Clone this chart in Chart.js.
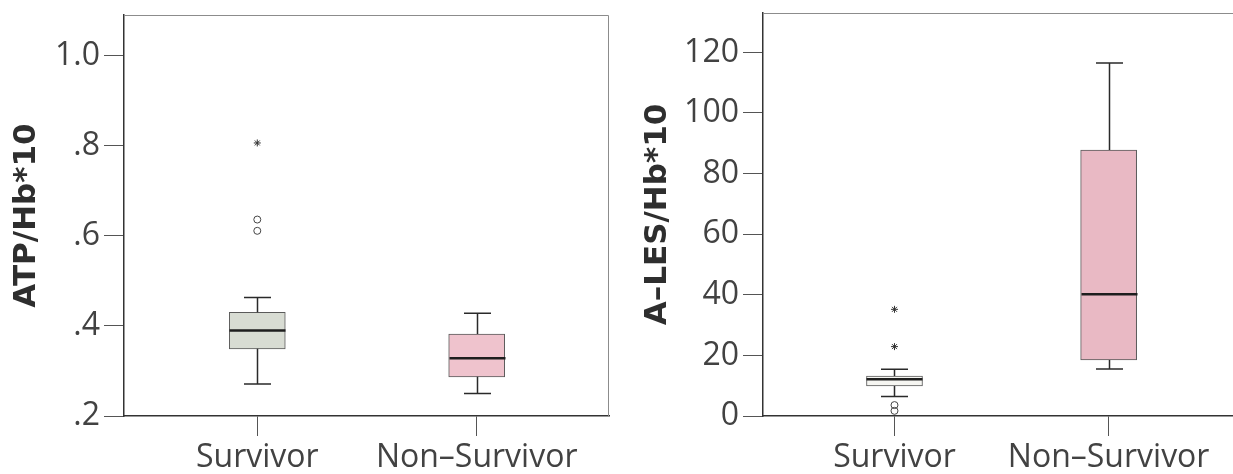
<!DOCTYPE html>
<html lang="en-US">
<head>
	<meta charset="utf-8">
	<script src="https://cdn.jsdelivr.net/npm/chart.js@4.4.1/dist/chart.umd.min.js"></script>
	<style>
		body { margin:0; background:#ffffff; overflow:hidden; width:1233px; height:474px; position:relative; }
		canvas { position:absolute; top:0; }
	</style>
</head>
<body>
	<canvas id="chartAtp" width="620" height="474" style="left:0px;"></canvas>
	<canvas id="chartLes" width="640" height="474" style="left:620px;"></canvas>
	<script>
	var groups = ['Survivor', 'Non\u2013Survivor'];

	// ATP/Hb*10 (left panel)
	var atpLow    = [0.271, 0.250];
	var atpQ1     = [0.349, 0.287];
	var atpMedian = [0.390, 0.328];
	var atpQ3     = [0.430, 0.382];
	var atpHigh   = [0.463, 0.428];
	var atpOutliers = [0.636, 0.611];   // circles, Survivor
	var atpExtremes = [0.806];          // stars, Survivor
	var atpTicks      = [0.2, 0.4, 0.6, 0.8, 1.0];
	var atpTickLabels = ['.2', '.4', '.6', '.8', '1.0'];

	// A-LES/Hb*10 (right panel)
	var lesLow    = [6.4, 15.5];
	var lesQ1     = [9.9, 18.5];
	var lesMedian = [12.1, 40.2];
	var lesQ3     = [13.2, 87.8];
	var lesHigh   = [15.4, 116.5];
	var lesOutliers = [3.6, 1.7];       // circles, Survivor
	var lesExtremes = [35.2, 22.9];     // stars, Survivor
	var lesTicks      = [0, 20, 40, 60, 80, 100, 120];
	var lesTickLabels = ['0', '20', '40', '60', '80', '100', '120'];

	var tickFont  = { family: 'Open Sans', size: 32, weight: '400' };
	var titleFont = { family: 'DejaVu Sans', size: 31, weight: 'bold' };
	var inkColor  = '#424242';

	// whiskers, caps, medians and the light top/right frame
	var boxPlugin = {
		id: 'boxExtras',
		afterDatasetsDraw: function(chart)
		{
			var st = chart.options.plugins.boxExtras;
			var xs = chart.scales.x, ys = chart.scales.y, ctx = chart.ctx;
			var area = chart.chartArea;
			ctx.save();
			ctx.strokeStyle = '#8c8c8c';
			ctx.lineWidth = 1;
			ctx.beginPath();
			ctx.moveTo(area.left, area.top + 0.5);
			ctx.lineTo(area.right - 0.5, area.top + 0.5);
			ctx.lineTo(area.right - 0.5, area.bottom);
			ctx.stroke();

			for (var i = 0; i < st.median.length; i++)
			{
				var cx = Math.round(xs.getPixelForValue(i)) + 0.5;
				var yLow = ys.getPixelForValue(st.low[i]);
				var yQ1 = ys.getPixelForValue(st.q1[i]);
				var yQ3 = ys.getPixelForValue(st.q3[i]);
				var yHigh = ys.getPixelForValue(st.high[i]);
				var yMed = ys.getPixelForValue(st.median[i]);

				ctx.strokeStyle = '#2a2a2a';
				ctx.lineWidth = 1.5;
				ctx.beginPath();
				ctx.moveTo(cx, yQ3); ctx.lineTo(cx, yHigh);
				ctx.moveTo(cx, yQ1); ctx.lineTo(cx, yLow);
				ctx.moveTo(cx - 13.5, yHigh); ctx.lineTo(cx + 13.5, yHigh);
				ctx.moveTo(cx - 13.5, yLow); ctx.lineTo(cx + 13.5, yLow);
				ctx.stroke();

				ctx.strokeStyle = '#1e1e1e';
				ctx.lineWidth = 2.5;
				ctx.beginPath();
				ctx.moveTo(cx - 28, yMed); ctx.lineTo(cx + 28, yMed);
				ctx.stroke();
			}
			ctx.restore();
		}
	};

	function montarBoxplot(id, cfg)
	{
		var boxes = [];
		for (var i = 0; i < groups.length; i++)
			boxes.push({ x: i, y: [cfg.q1[i], cfg.q3[i]] });

		var ctx = document.getElementById(id).getContext('2d');
		return new Chart(ctx, {
			type: 'bar',
			data: {
				datasets: [
					{
						type: 'bar',
						data: boxes,
						backgroundColor: cfg.fills,
						borderColor: '#5a5a5a',
						borderWidth: 1,
						borderSkipped: false,
						barThickness: 56,
						order: 2
					},
					{
						type: 'scatter',
						data: cfg.outliers.map(function(v) { return { x: 0, y: v }; }),
						pointStyle: 'circle',
						pointRadius: 3.5,
						backgroundColor: 'rgba(255,255,255,0)',
						borderColor: '#444444',
						borderWidth: 1,
						order: 1
					},
					{
						type: 'scatter',
						data: cfg.extremes.map(function(v) { return { x: 0, y: v }; }),
						pointStyle: 'star',
						pointRadius: 3.5,
						borderColor: '#333333',
						borderWidth: 1,
						order: 1
					}
				]
			},
			options: {
				responsive: false,
				animation: false,
				layout: { padding: { top: cfg.padTop, right: cfg.padRight, left: 0, bottom: 0 } },
				plugins: {
					legend: { display: false },
					tooltip: { enabled: false },
					boxExtras: cfg
				},
				scales: {
					x: {
						type: 'linear',
						min: cfg.xMin,
						max: cfg.xMax,
						offset: false,
						afterBuildTicks: function(scale) {
							scale.ticks = groups.map(function(g, i) { return { value: i }; });
						},
						afterFit: function(scale) {
							scale.height = 58;
							scale.paddingLeft = 0;
							scale.paddingRight = 0;
						},
						ticks: {
							callback: function(v) { return groups[v]; },
							font: tickFont,
							color: inkColor,
							padding: 3,
							maxRotation: 0,
							autoSkip: false
						},
						grid: { offset: false, drawOnChartArea: false, drawTicks: true, tickLength: 20, tickColor: '#555555', lineWidth: 1 },
						border: { display: true, color: '#333333', width: 1.5 }
					},
					y: {
						min: cfg.yMin,
						max: cfg.yMax,
						afterBuildTicks: function(scale) {
							scale.ticks = cfg.ticks.map(function(v) { return { value: v }; });
						},
						afterFit: function(scale) {
							scale.width = cfg.axisWidth;
							scale.paddingTop = 0;
							scale.paddingBottom = 0;
						},
						ticks: {
							callback: function(v) { return cfg.tickLabels[cfg.ticks.indexOf(v)]; },
							font: tickFont,
							color: inkColor,
							padding: 4
						},
						grid: { drawOnChartArea: false, drawTicks: true, tickLength: 20, tickColor: '#555555', lineWidth: 1 },
						border: { display: true, color: '#333333', width: 1.5 },
						title: {
							display: true,
							text: cfg.title,
							font: titleFont,
							color: '#2e2e2e',
							padding: { top: cfg.titlePad, bottom: 0 }
						}
					}
				}
			},
			plugins: [boxPlugin]
		});
	}

	montarBoxplot('chartAtp', {
		title: 'ATP/Hb*10',
		low: atpLow, q1: atpQ1, median: atpMedian, q3: atpQ3, high: atpHigh,
		outliers: atpOutliers, extremes: atpExtremes,
		ticks: atpTicks, tickLabels: atpTickLabels,
		fills: ['#d8dcd3', '#efc3cd'],
		yMin: 0.2, yMax: 1.09,
		xMin: -0.6075, xMax: 1.603,
		axisWidth: 124, padTop: 15, padRight: 11, titlePad: 8.4
	});

	montarBoxplot('chartLes', {
		title: 'A\u2013LES/Hb*10',
		low: lesLow, q1: lesQ1, median: lesMedian, q3: lesQ3, high: lesHigh,
		outliers: lesOutliers, extremes: lesExtremes,
		ticks: lesTicks, tickLabels: lesTickLabels,
		fills: ['#f6f6f2', '#e9b9c4'],
		yMin: 0, yMax: 133,
		xMin: -0.614, xMax: 1.618,
		axisWidth: 143, padTop: 13, padRight: 19, titlePad: 19.4
	});
	</script>
</body>
</html>
